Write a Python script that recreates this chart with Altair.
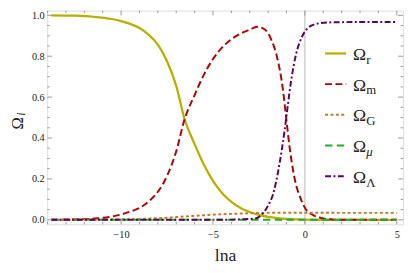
import altair as alt
import pandas as pd

# ---- data ----
r_x = [-13.8, -12.5, -11.5, -10.5, -10, -9.5, -9, -8.5, -8, -7.5, -7, -6.55, -6, -5.5, -5,
       -4.5, -4, -3.5, -3, -2.5, -2, -1.5, -1, 0, 1, 2, 3, 4, 5]
r_y = [1.0, 0.998, 0.993, 0.982, 0.972, 0.958, 0.938, 0.905, 0.857, 0.775, 0.655, 0.494, 0.37,
       0.27, 0.19, 0.13, 0.088, 0.058, 0.038, 0.024, 0.014, 0.008, 0.004, 0.001, 0.0, 0.0, 0.0, 0.0, 0.0]

m_x = [-13.8, -12.5, -11.5, -10.5, -10, -9.5, -9, -8.5, -8, -7.5, -7, -6.55, -6, -5.5, -5, -4.5,
       -4, -3.5, -3, -2.6, -2.2, -1.85, -1.5, -1.2, -1.02, -0.84, -0.57, -0.21, 0.05, 0.5, 1.0,
       1.5, 2, 3, 4, 5]
m_y = [0.0, 0.002, 0.006, 0.016, 0.026, 0.04, 0.058, 0.09, 0.137, 0.215, 0.335, 0.49, 0.61, 0.709,
       0.786, 0.843, 0.883, 0.911, 0.93, 0.944, 0.932, 0.885, 0.79, 0.64, 0.50, 0.36, 0.207, 0.099,
       0.052, 0.021, 0.007, 0.002, 0.0, 0.0, 0.0, 0.0]

g_x = [-13.8, -12, -10, -9, -8.4, -7.5, -6.6, -5.7, -4.85, -4, -3.07, -2, -1.28, 0, 2, 5]
g_y = [0.0, 0.0005, 0.002, 0.004, 0.006, 0.01, 0.016, 0.021, 0.026, 0.029, 0.032, 0.034, 0.035,
       0.035, 0.034, 0.034]

mu_x = [-13.8, -5, 0, 5]
mu_y = [0.0, 0.0, 0.0, 0.0]

l_x = [-13.8, -6, -4, -3.3, -2.7, -2.35, -2.0, -1.75, -1.37, -1.1, -0.93, -0.75, -0.48, -0.13,
       0.32, 0.86, 1.57, 3, 5]
l_y = [0.0, 0.0, 0.001, 0.003, 0.006, 0.025, 0.07, 0.12, 0.28, 0.44, 0.56, 0.68, 0.81, 0.90,
       0.948, 0.962, 0.966, 0.967, 0.967]

series_names = ["r", "m", "G", "μ", "Λ"]
series_colors = ["#b8b000", "#b30000", "#c87822", "#22b022", "#600060"]

x_major = [-10, -5, 0, 5]
x_minor = [v for v in range(-14, 6) if v not in x_major]
y_major = [0.0, 0.2, 0.4, 0.6, 0.8, 1.0]
y_minor = [round(0.05 * i, 2) for i in range(21) if i % 4 != 0]

# ---- layout / style ----
W, H = 363, 218
FONT = "Liberation Serif, Times New Roman, Times, serif"
FRAME = "#9a9a9a"
TXT = "#222"

xscale = alt.Scale(domain=[-14.02, 5.34], nice=False, zero=False)
yscale = alt.Scale(domain=[-0.022, 1.023], nice=False, zero=False)
xaxis = alt.Axis(values=x_major, ticks=False, domain=False, grid=False, labelFont=FONT,
                 labelFontSize=10.5, labelColor=TXT, labelPadding=5, title="lna",
                 titleFont=FONT, titleFontSize=18, titleFontWeight="normal", titleColor=TXT,
                 titleY=37, titleBaseline="alphabetic")
yaxis = alt.Axis(values=y_major, format=".1f", ticks=False, domain=False, grid=False,
                 labelFont=FONT, labelFontSize=10.5, labelColor=TXT, labelPadding=3, title="")

layers = []

# axis line at x = 0
zero_df = pd.DataFrame({"x": [0]})
layers.append(alt.Chart(zero_df).mark_rule(color="#b8b8b8", strokeWidth=1).encode(
    x=alt.X("x:Q", scale=xscale, axis=xaxis)))

# curves
series = [
    (r_x, r_y, None, 2.3),
    (m_x, m_y, [7, 3.5], 2),
    (g_x, g_y, [3, 2.5], 2),
    (mu_x, mu_y, [7.5, 4.5], 2),
    (l_x, l_y, [6, 2.5, 2, 2.5], 2),
]
dashes = []
for (xs, ys, dash, sw), name, col in zip(series, series_names, series_colors):
    df = pd.DataFrame({"lna": xs, "omega": ys})
    kw = dict(color=col, strokeWidth=sw, interpolate="monotone", clip=True)
    if dash is not None:
        kw["strokeDash"] = dash
    dashes.append(dash)
    layers.append(alt.Chart(df).mark_line(**kw).encode(
        x=alt.X("lna:Q", scale=xscale, axis=xaxis),
        y=alt.Y("omega:Q", scale=yscale, axis=yaxis),
        order="lna:Q"))

# frame ticks (inward)
def xticks(vals, length):
    df = pd.DataFrame({"t": vals})
    base = alt.Chart(df).mark_rule(color=FRAME, strokeWidth=1)
    bot = base.encode(x=alt.X("t:Q", scale=xscale, axis=xaxis),
                      y=alt.value(H), y2=alt.value(H - length))
    top = base.encode(x=alt.X("t:Q", scale=xscale, axis=xaxis),
                      y=alt.value(0), y2=alt.value(length))
    return [bot, top]

def yticks(vals, length):
    df = pd.DataFrame({"t": vals})
    base = alt.Chart(df).mark_rule(color=FRAME, strokeWidth=1)
    left = base.encode(y=alt.Y("t:Q", scale=yscale, axis=yaxis),
                       x=alt.value(0), x2=alt.value(length))
    right = base.encode(y=alt.Y("t:Q", scale=yscale, axis=yaxis),
                        x=alt.value(W), x2=alt.value(W - length))
    return [left, right]

layers += xticks(x_major, 5) + xticks(x_minor, 2.5) + yticks(y_major, 5) + yticks(y_minor, 2.5)

# legend (inside plot, right side)
one = pd.DataFrame({"a": [0]})
leg_rows = [43.7, 75.0, 106.3, 137.6, 169.0]
for name, col, dash, ly, (_, _, _, sw) in zip(series_names, series_colors, dashes, leg_rows, series):
    kw = dict(color=col, strokeWidth=sw)
    if dash is not None:
        kw["strokeDash"] = dash
    layers.append(alt.Chart(one).mark_rule(**kw).encode(
        x=alt.value(283.5), x2=alt.value(305), y=alt.value(ly)))
    layers.append(alt.Chart(one).mark_text(text="Ω", font=FONT, fontSize=18, color=TXT,
                                           align="left", baseline="alphabetic").encode(
        x=alt.value(312), y=alt.value(ly + 6.5)))
    layers.append(alt.Chart(one).mark_text(text=name, font=FONT, fontSize=13, color=TXT,
                                           align="left", baseline="alphabetic",
                                           fontStyle="italic" if name == "μ" else "normal").encode(
        x=alt.value(325.5), y=alt.value(ly + 10.5)))

# y-axis title  Ω_i
layers.append(alt.Chart(one).mark_text(text="Ω", font=FONT, fontSize=17, color=TXT,
                                       angle=270, align="center", baseline="alphabetic").encode(
    x=alt.value(-25), y=alt.value(115)))
layers.append(alt.Chart(one).mark_text(text="i", font=FONT, fontSize=12, color=TXT,
                                       fontStyle="italic", angle=270, align="center",
                                       baseline="alphabetic").encode(
    x=alt.value(-23), y=alt.value(105.5)))

chart = alt.layer(*layers).properties(
    width=W, height=H,
    autosize=alt.AutoSizeParams(type="none"),
    padding={"left": 40, "top": 0, "right": 2, "bottom": 47},
).configure_view(stroke=FRAME, strokeWidth=1).configure(background="white")

chart.save("out.html", embed_options={"renderer": "svg", "actions": False})
